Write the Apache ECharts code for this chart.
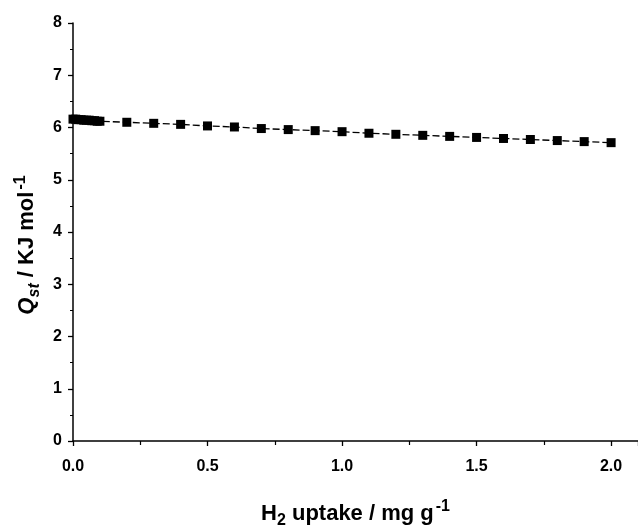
<!DOCTYPE html>
<html>
<head>
<meta charset="utf-8">
<script src="https://cdn.jsdelivr.net/npm/echarts@6/dist/echarts.min.js"></script>
<style>
  html, body { margin: 0; padding: 0; background: #fff; }
  #chart { width: 638px; height: 526px; }
</style>
</head>
<body>
<div id="chart"></div>
<script>
// H2 uptake (mg/g) and isosteric heat Qst (kJ/mol)
const uptake = [0, 0.01, 0.02, 0.03, 0.04, 0.05, 0.06, 0.07, 0.08, 0.09, 0.1,
    0.2, 0.3, 0.4, 0.5, 0.6, 0.7, 0.8, 0.9, 1.0,
    1.1, 1.2, 1.3, 1.4, 1.5, 1.6, 1.7, 1.8, 1.9, 2.0];
const qst = [6.16, 6.16, 6.15, 6.15, 6.14, 6.14, 6.14, 6.13, 6.13, 6.12, 6.12,
    6.10, 6.08, 6.06, 6.03, 6.01, 5.98, 5.96, 5.94, 5.92,
    5.89, 5.87, 5.85, 5.83, 5.81, 5.79, 5.77, 5.75, 5.73, 5.71];

const points = uptake.map((x, i) => [x, qst[i]]);

const chart = echarts.init(document.getElementById('chart'));
const font = 'Liberation Sans, Arial, sans-serif';

// rich styles for axis titles: main text, subscript, superscript
function titleRich(italicMain) {
    const base = {fontFamily: font, fontWeight: 'bold', color: '#000'};
    return {
        q: Object.assign({}, base, {fontSize: 22, fontStyle: 'italic', lineHeight: 30, verticalAlign: 'middle'}),
        n: Object.assign({}, base, {fontSize: 22, lineHeight: 30, verticalAlign: 'middle'}),
        sub: Object.assign({}, base, {fontSize: 16, fontStyle: italicMain ? 'italic' : 'normal', lineHeight: 14, verticalAlign: 'bottom'}),
        sup: Object.assign({}, base, {fontSize: 16, lineHeight: 14, verticalAlign: 'top', padding: [0, 0, 0, 2]})
    };
}

chart.setOption({
    backgroundColor: '#fff',
    animation: false,
    grid: {left: 73, top: 23, right: 0, bottom: 85, outerBoundsMode: 'none'},
    xAxis: {
        type: 'value',
        min: 0,
        max: 2.1,
        interval: 0.5,
        name: '{n|H}{sub|2}{n| uptake / mg g}{sup|-1}',
        nameLocation: 'middle',
        nameGap: 58,
        nameTextStyle: {rich: titleRich(false)},
        axisLine: {lineStyle: {color: '#000', width: 1.5}},
        axisTick: {inside: false, length: 5, lineStyle: {color: '#000', width: 1.3}},
        minorTick: {show: true, splitNumber: 2, length: 4, lineStyle: {color: '#000', width: 1.2}},
        splitLine: {show: false},
        axisLabel: {
            color: '#000', fontFamily: font, fontWeight: 'bold', fontSize: 16, margin: 18,
            showMaxLabel: false,
            formatter: v => v.toFixed(1)
        }
    },
    yAxis: {
        type: 'value',
        min: 0,
        max: 8,
        interval: 1,
        name: '{q|Q}{sub|st}{n| / KJ mol}{sup|-1}',
        nameLocation: 'middle',
        nameRotate: 90,
        nameGap: 29,
        nameTextStyle: {rich: titleRich(true), padding: [0, 26, 0, 0]},
        axisLine: {lineStyle: {color: '#000', width: 1.5}},
        axisTick: {inside: false, length: 5, lineStyle: {color: '#000', width: 1.3}},
        minorTick: {show: true, splitNumber: 2, length: 3, lineStyle: {color: '#000', width: 1}},
        splitLine: {show: false},
        axisLabel: {color: '#000', fontFamily: font, fontWeight: 'bold', fontSize: 16, margin: 11}
    },
    series: [{
        type: 'line',
        data: points,
        symbol: 'rect',
        symbolSize: 9,
        itemStyle: {color: '#000'},
        lineStyle: {color: '#000', width: 1.3, type: [7, 3]}
    }]
});
</script>
</body>
</html>
